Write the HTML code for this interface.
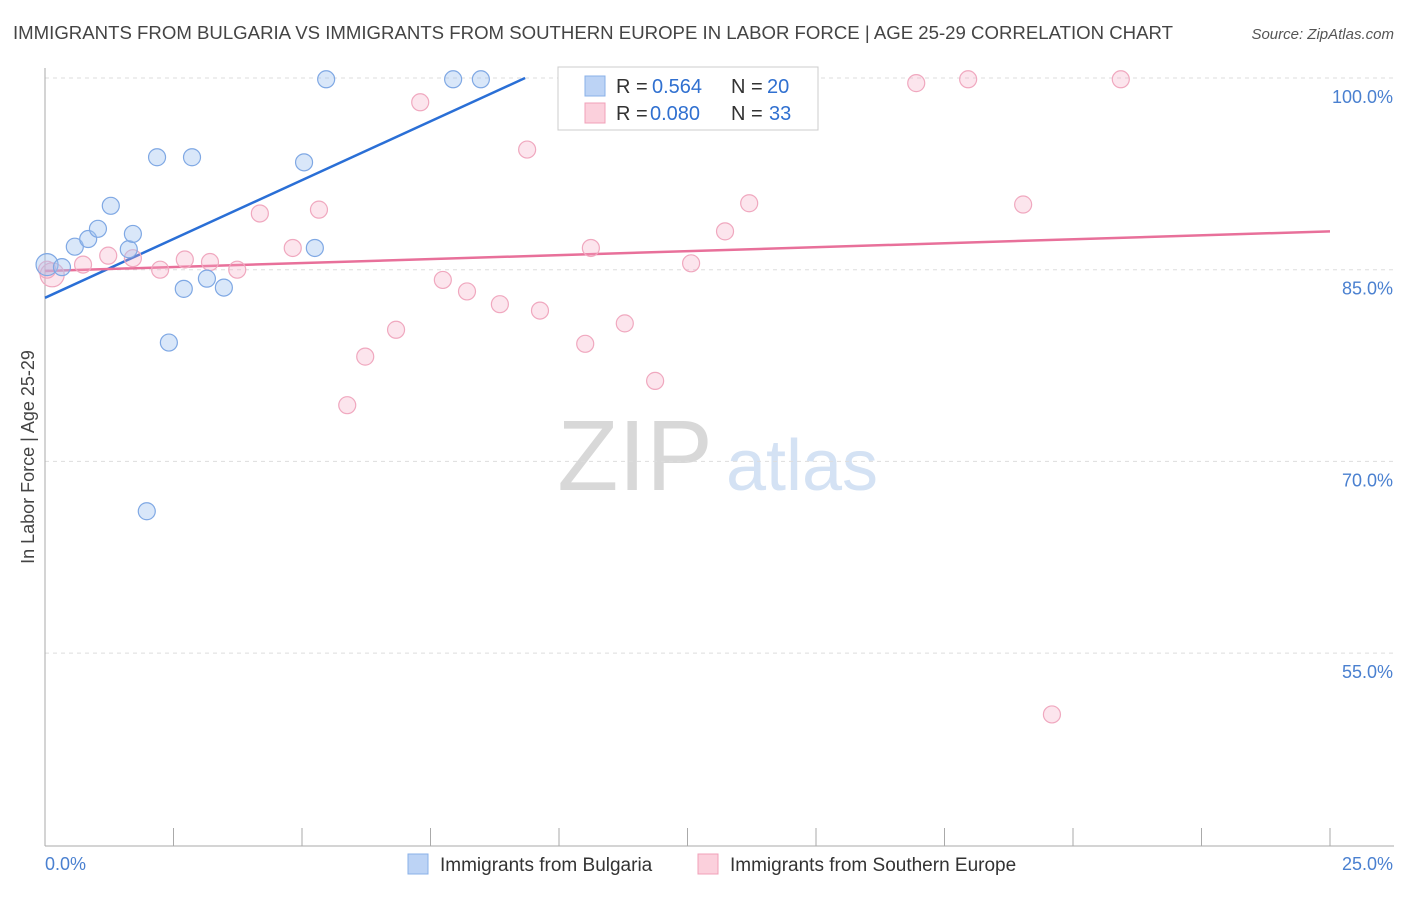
<!DOCTYPE html>
<html><head><meta charset="utf-8"><style>
body{margin:0;background:#fff;font-family:"Liberation Sans",sans-serif;}
svg text{font-family:"Liberation Sans",sans-serif;}
</style></head><body>
<svg id="chart" width="1406" height="892" xmlns="http://www.w3.org/2000/svg">
<text x="13" y="39" font-size="18" fill="#444" textLength="1160" lengthAdjust="spacingAndGlyphs">IMMIGRANTS FROM BULGARIA VS IMMIGRANTS FROM SOUTHERN EUROPE IN LABOR FORCE | AGE 25-29 CORRELATION CHART</text>
<text x="1394" y="39" font-size="15" fill="#555" text-anchor="end" font-style="italic">Source: ZipAtlas.com</text>
<text transform="translate(34,457) rotate(-90)" font-size="18" fill="#444" text-anchor="middle">In Labor Force | Age 25-29</text>
<g><text x="635" y="490" font-size="100" fill="#d8d8d8" text-anchor="middle" font-family="Liberation Serif,serif">ZIP</text><text x="802" y="490" font-size="72" fill="#d4e2f4" text-anchor="middle">atlas</text></g>
<g id="grid"></g><g id="axes"></g><g id="lines"></g><g id="points"></g>
<g>
<rect x="558" y="67" width="260" height="63" fill="#fff" stroke="#ccc"/>
<rect x="585" y="76" width="20" height="20" fill="#bcd3f5" stroke="#8ab0e8"/>
<text x="616" y="93" font-size="20" fill="#333">R =</text><text x="652" y="93" font-size="20" fill="#3070d0">0.564</text>
<text x="731" y="93" font-size="20" fill="#333">N =</text><text x="767" y="93" font-size="20" fill="#3070d0">20</text>
<rect x="585" y="103" width="20" height="20" fill="#fbd0dc" stroke="#f0a0b8"/>
<text x="616" y="120" font-size="20" fill="#333">R =</text><text x="650" y="120" font-size="20" fill="#3070d0">0.080</text>
<text x="731" y="120" font-size="20" fill="#333">N =</text><text x="769" y="120" font-size="20" fill="#3070d0">33</text>
</g>
<g>
<rect x="408" y="854" width="20" height="20" fill="#bcd3f5" stroke="#8ab0e8"/>
<text x="440" y="871" font-size="19" fill="#333">Immigrants from Bulgaria</text>
<rect x="698" y="854" width="20" height="20" fill="#fbd0dc" stroke="#f0a0b8"/>
<text x="730" y="871" font-size="19" fill="#333">Immigrants from Southern Europe</text>
</g>
</svg>
<script>
const blueX=[0.04,0.33,0.58,0.84,1.03,1.28,1.63,1.71,2.18,2.41,2.70,2.86,3.15,3.48,1.98,5.04,5.25,5.47,7.94,8.48];
const blueY=[85.4,85.2,86.8,87.4,88.2,90.0,86.6,87.8,93.8,79.3,83.5,93.8,84.3,83.6,66.1,93.4,86.7,99.9,99.9,99.9];
const pinkX=[0.14,0.74,1.23,1.71,2.24,2.72,3.21,3.74,4.18,4.82,5.33,5.88,6.23,6.83,7.30,7.74,8.21,8.85,9.38,9.63,10.51,10.62,11.28,11.87,12.57,13.23,13.70,16.95,17.96,19.03,19.59,20.93,0.04];
const pinkY=[84.6,85.4,86.1,85.9,85.0,85.8,85.6,85.0,89.4,86.7,89.7,74.4,78.2,80.3,98.1,84.2,83.3,82.3,94.4,81.8,79.2,86.7,80.8,76.3,85.5,88.0,90.2,99.6,99.9,90.1,50.2,99.9,85.0];
const blueLine=[0,82.8,9.34,100];
const pinkLine=[0,84.9,25,88.0];
const yTicks=[100,85,70,55];
const yTickLabels=["100.0%","85.0%","70.0%","55.0%"];
const xTicks=[0,2.5,5,7.5,10,12.5,15,17.5,20,22.5,25];
const NS="http://www.w3.org/2000/svg";
const sx=v=>45+v*(1285/25);
const sy=v=>78+(100-v)*12.78;
function mk(t,a,p){const e=document.createElementNS(NS,t);for(const k in a)e.setAttribute(k,a[k]);p.appendChild(e);return e;}
const grid=document.getElementById('grid'),axes=document.getElementById('axes');
yTicks.forEach((v,i)=>{
 const l=mk('line',{x1:45,x2:1394,y1:sy(v),y2:sy(v),stroke:'#ddd','stroke-dasharray':'4,4'},grid);
 
 
 const t=mk('text',{x:1393,y:sy(v)+25,'font-size':18,fill:'#4a80d0','text-anchor':'end'},axes);t.textContent=yTickLabels[i];
 
 
});
const ax=mk('line',{x1:45,x2:45,y1:68,y2:846,stroke:'#aaa'},axes);


const bx=mk('line',{x1:45,x2:1394,y1:846,y2:846,stroke:'#aaa'},axes);


xTicks.forEach(v=>{const t=mk('line',{x1:sx(v),x2:sx(v),y1:828,y2:846,stroke:'#aaa'},axes);
 
 });
const x0=mk('text',{x:45,y:870,'font-size':18,fill:'#4a80d0'},axes);x0.textContent='0.0%';


const x1=mk('text',{x:1393,y:870,'font-size':18,fill:'#4a80d0','text-anchor':'end'},axes);x1.textContent='25.0%';


const pts=document.getElementById('points');
pinkX.forEach((x,i)=>{const c=mk('circle',{cx:sx(x),cy:sy(pinkY[i]),r:i===0?12:8.5,fill:'rgba(245,170,195,0.3)',stroke:'#f0a8bf','stroke-width':1.2},pts);
 
 });
blueX.forEach((x,i)=>{const c=mk('circle',{cx:sx(x),cy:sy(blueY[i]),r:i===0?11:8.5,fill:'rgba(160,195,240,0.4)',stroke:'#7fa8e4','stroke-width':1.2},pts);
 
 });
const lines=document.getElementById('lines');
const bl=mk('line',{x1:sx(blueLine[0]),y1:sy(blueLine[1]),x2:sx(blueLine[2]),y2:sy(blueLine[3]),stroke:'#2a6fd6','stroke-width':2.5},lines);


const pl=mk('line',{x1:sx(pinkLine[0]),y1:sy(pinkLine[1]),x2:sx(pinkLine[2]),y2:sy(pinkLine[3]),stroke:'#e8709a','stroke-width':2.5},lines);


</script>
</body></html>
